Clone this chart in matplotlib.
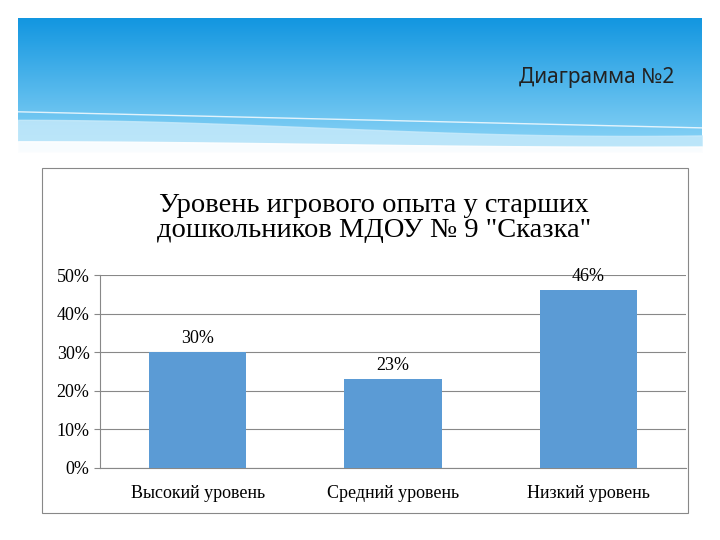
import matplotlib
matplotlib.use("Agg")
import matplotlib.pyplot as plt
import numpy as np
from matplotlib.patches import Rectangle
from matplotlib.colors import LinearSegmentedColormap

categories = ["Высокий уровень", "Средний уровень", "Низкий уровень"]
values = [0.30, 0.23, 0.46]
labels = ["30%", "23%", "46%"]
yticks = [0, 0.1, 0.2, 0.3, 0.4, 0.5]

W, H = 720, 540
fig = plt.figure(figsize=(7.2, 5.4), dpi=100)
fig.patch.set_facecolor("white")

# Banner
bax = fig.add_axes([18/W, 1-152/H, 684/W, 134/H])
bax.set_xlim(0, 1); bax.set_ylim(0, 1); bax.axis("off")
grad = np.linspace(0, 1, 256).reshape(-1, 1)
cmap = LinearSegmentedColormap.from_list("b", ["#1296e0", "#8fd6f7"])
bax.imshow(grad, cmap=cmap, extent=[0, 1, 0, 1], aspect="auto", origin="upper")
xs = np.linspace(0, 1, 200)
bax.fill_between(xs, 0, 0.18 + 0.06*np.cos(xs*3.5), color="#c9ebfb", alpha=0.8)
bax.fill_between(xs, 0, 0.06 + 0.02*np.cos(xs*3.5), color="white", alpha=0.9)
bax.plot(xs, 0.30 - 0.12*xs, color="white", lw=1, alpha=0.8)
fig.text(597/W, 1-77/H, "Диаграмма №2", ha="center", va="center",
         fontsize=15, family="Noto Sans", color="#222222")

# Chart box
fig.patches.append(Rectangle((42/W, 1-513/H), 646/W, 345/H, transform=fig.transFigure,
                             fill=False, ec="#888888", lw=0.8))

ax = fig.add_axes([100/W, 1-468/H, 586/W, (468-275)/H])
x = np.arange(len(categories))
ax.bar(x, values, width=0.5, color="#5b9bd5", zorder=3)
for xi, v, l in zip(x, values, labels):
    ax.text(xi, v + 0.014, l, ha="center", va="bottom", fontsize=13, family="Liberation Serif")
ax.set_xlim(-0.5, 2.5)
ax.set_ylim(0, 0.5)
ax.set_yticks(yticks)
ax.set_yticklabels([f"{int(round(t*100))}%" for t in yticks], family="Liberation Serif", fontsize=13)
ax.set_xticks(x)
ax.set_xticklabels(categories, family="Liberation Serif", fontsize=13)
ax.grid(axis="y", color="#888888", lw=0.8, zorder=0)
for s in ["top", "right"]:
    ax.spines[s].set_visible(False)
ax.spines["left"].set_color("#888888")
ax.spines["bottom"].set_color("#888888")
ax.tick_params(axis="y", length=4, color="#888888")
ax.tick_params(axis="x", length=0, pad=12)

fig.text(374/W, 1-218/H, "Уровень игрового опыта у старших\nдошкольников МДОУ № 9 \"Сказка\"",
         ha="center", va="center", fontsize=20.5, family="Liberation Serif", linespacing=1.0)

fig.savefig("out.png", dpi=100)
